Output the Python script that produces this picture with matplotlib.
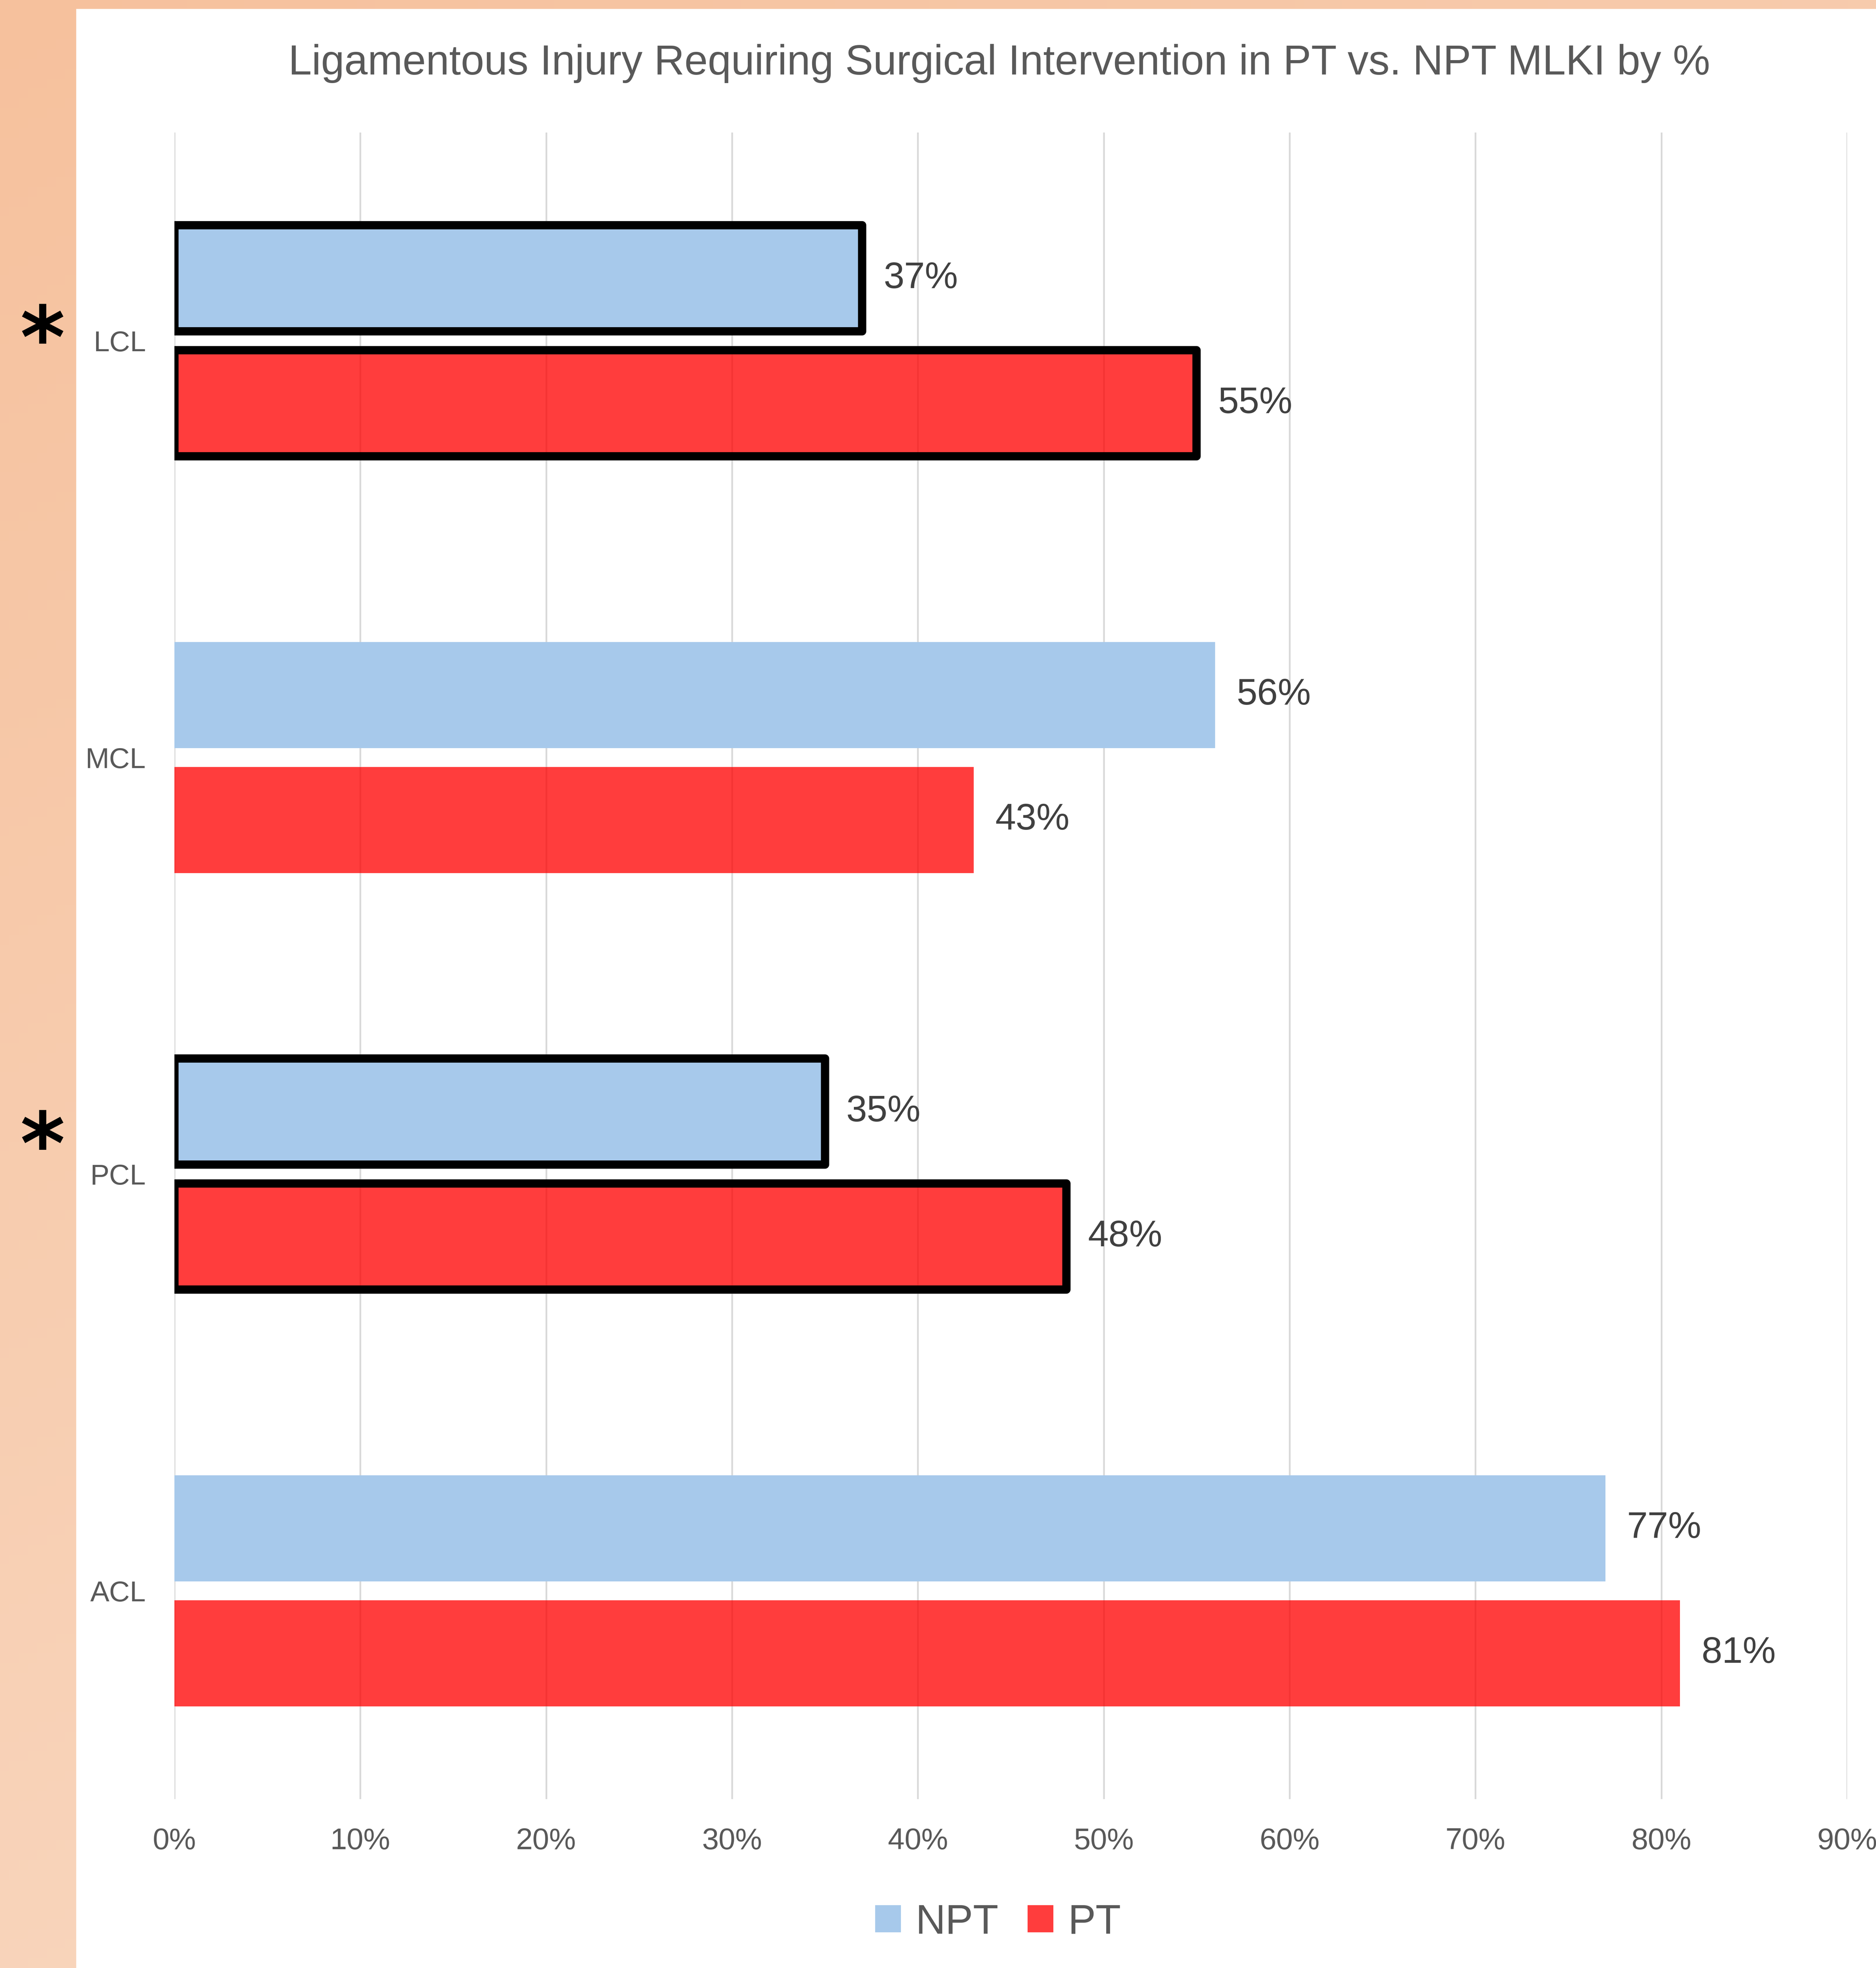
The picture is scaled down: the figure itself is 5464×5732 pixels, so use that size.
import numpy as np
import matplotlib
matplotlib.use("Agg")
import matplotlib.pyplot as plt
from matplotlib import font_manager as fm
from matplotlib.patches import Patch, Rectangle

# data, bottom to top as drawn
categories = ["ACL", "PCL", "MCL", "LCL"]
npt = [77, 35, 56, 37]
pt = [81, 48, 43, 55]
significant = [False, True, False, True]
xticks = [0, 10, 20, 30, 40, 50, 60, 70, 80, 90]
title = "Ligamentous Injury Requiring Surgical Intervention in PT vs. NPT MLKI by %"

W, H = 5464, 5732
DPI = 300


def pick(names):
    for n in names:
        try:
            fm.findfont(fm.FontProperties(family=n), fallback_to_default=False)
            return n
        except Exception:
            pass
    return "DejaVu Sans"


narrow = pick(["Liberation Sans Narrow", "Arial Narrow", "Liberation Sans"])
plt.rcParams["font.family"] = [narrow, "DejaVu Sans"]

blue = "#A7C9EB"
red = (1.0, 0.0, 0.0, 0.76)
grey = "#595959"

fig = plt.figure(figsize=(W / DPI, H / DPI), dpi=DPI, facecolor="white")

# orange gradient frame on left and top
bg = fig.add_axes([0, 0, 1, 1], zorder=-10)
yy, xx = np.mgrid[0:1:200j, 0:1:200j]
t = 0.35 * xx + 0.65 * yy
c0 = np.array([246, 193, 157]) / 255
c1 = np.array([250, 222, 202]) / 255
grad = c0[None, None, :] + (c1 - c0)[None, None, :] * t[:, :, None]
bg.imshow(grad, extent=[0, 1, 0, 1], origin="upper", aspect="auto")
bg.add_patch(Rectangle((224 / W, 0), 1 - 224 / W, 1 - 28 / H, color="white"))
bg.set_xlim(0, 1)
bg.set_ylim(0, 1)
bg.axis("off")

ax = fig.add_axes([508 / W, (H - 5240) / H, (5380 - 508) / W, (5240 - 386) / H])
ax.set_facecolor("white")

y = np.arange(len(categories))
h = 0.255
off = 0.15
for i in range(len(categories)):
    kw = dict(edgecolor="black", linewidth=5.8, joinstyle="round") if significant[i] else dict(linewidth=0)
    ax.barh(y[i] + off, npt[i], height=h, color=blue, zorder=2, **kw)
    ax.barh(y[i] - off, pt[i], height=h, facecolor=red, zorder=2, **kw)
    ax.annotate(f"{npt[i]}%", (npt[i], y[i] + off), xytext=(15, 0), textcoords="offset points",
                va="center", ha="left", fontsize=26, color="#404040")
    ax.annotate(f"{pt[i]}%", (pt[i], y[i] - off), xytext=(15, 0), textcoords="offset points",
                va="center", ha="left", fontsize=26, color="#404040")

ax.set_xlim(0, 90)
ax.set_ylim(-0.5, len(categories) - 0.5)
ax.set_xticks(xticks)
ax.set_xticklabels([f"{v}%" for v in xticks])
ax.set_yticks(y)
ax.set_yticklabels(categories)
ax.tick_params(axis="x", length=0, pad=20, labelsize=21, labelcolor=grey)
ax.tick_params(axis="y", length=0, pad=20, labelsize=20, labelcolor=grey)
ax.grid(axis="x", color="#D9D9D9", linewidth=1.2, zorder=0)
ax.set_axisbelow(True)
for s in ax.spines.values():
    s.set_visible(False)

fig.text(2910 / W, 1 - 217 / H, title, ha="center", va="baseline", fontsize=29.3, color=grey)

# significance marks
em = 60 / 72 * DPI
for cy in [945, 3293]:
    fig.text(123 / W, 1 - (cy + 0.5 * em) / H, "*", ha="center", va="baseline",
             fontsize=60, fontweight="bold", color="black", family="DejaVu Sans")

handles = [Patch(facecolor=blue, label="NPT"), Patch(facecolor=(1, 0, 0, 0.76), label="PT")]
fig.legend(handles=handles, loc="center", bbox_to_anchor=(2907 / W, 1 - 5600 / H), ncol=2,
           frameon=False, fontsize=29, labelcolor=grey, handlelength=0.62, handleheight=0.62,
           handletextpad=0.35, columnspacing=0.7)

fig.savefig("out.png", dpi=DPI)
